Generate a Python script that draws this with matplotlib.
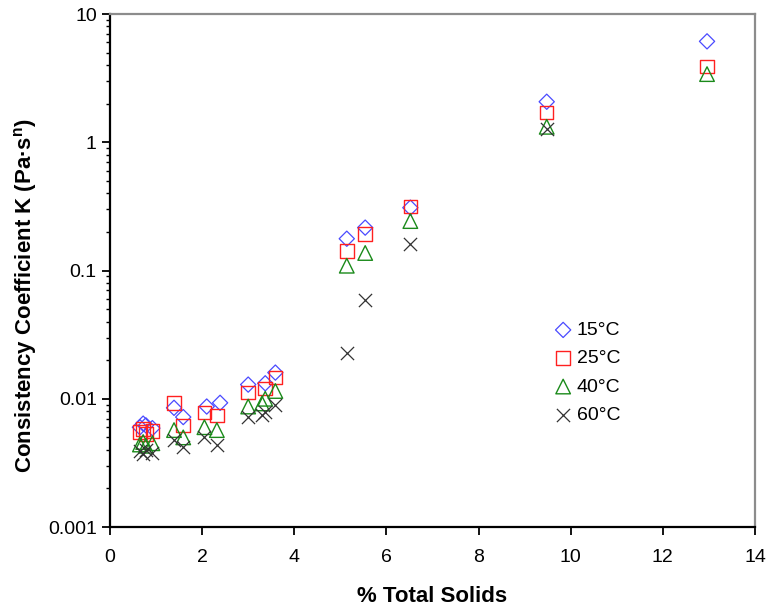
import matplotlib
matplotlib.use('Agg')
import matplotlib.pyplot as plt
from matplotlib.ticker import FixedLocator, LogLocator, NullFormatter, FuncFormatter

plt.rcParams['font.family'] = ['Liberation Sans', 'DejaVu Sans']
plt.rcParams['mathtext.fontset'] = 'custom'
plt.rcParams['mathtext.rm'] = 'Liberation Sans'
plt.rcParams['mathtext.bf'] = 'Liberation Sans:bold'

# % total solids for each temperature series
x_15 = [0.65, 0.72, 0.78, 0.92, 1.39, 1.59, 2.10, 2.39, 3.00, 3.37, 3.59, 5.14, 5.54, 6.52, 9.48, 12.96]
k_15 = [0.0060, 0.0064, 0.0062, 0.0059, 0.0085, 0.0072, 0.0087, 0.0093, 0.0129, 0.0132, 0.0160, 0.177, 0.216, 0.309, 2.07, 6.12]

x_25 = [0.65, 0.72, 0.78, 0.92, 1.39, 1.59, 2.05, 2.32, 3.00, 3.37, 3.59, 5.14, 5.54, 6.52, 9.48, 12.96]
k_25 = [0.0055, 0.0058, 0.0053, 0.0056, 0.0093, 0.0062, 0.0078, 0.0074, 0.0112, 0.0120, 0.0146, 0.142, 0.193, 0.315, 1.71, 3.90]

x_40 = [0.65, 0.72, 0.78, 0.92, 1.39, 1.59, 2.05, 2.32, 3.00, 3.30, 3.37, 3.59, 5.14, 5.54, 6.52, 9.48, 12.96]
k_40 = [0.0044, 0.0046, 0.0043, 0.0045, 0.0057, 0.0050, 0.0060, 0.0057, 0.0087, 0.0092, 0.0100, 0.0115, 0.109, 0.137, 0.243, 1.32, 3.40]

x_60 = [0.65, 0.72, 0.78, 0.92, 1.39, 1.59, 2.05, 2.32, 3.00, 3.30, 3.37, 3.59, 5.14, 5.54, 6.52, 9.48]
k_60 = [0.0039, 0.0037, 0.0040, 0.0038, 0.0048, 0.0042, 0.0050, 0.0044, 0.0072, 0.0075, 0.0079, 0.0090, 0.0227, 0.0593, 0.160, 1.27]

labels = ['15°C', '25°C', '40°C', '60°C']

fig = plt.figure(figsize=(7.68, 6.09), dpi=100)
ax = fig.add_axes([0.1432, 0.1346, 0.8398, 0.8424])

ax.scatter(x_15, k_15, marker='D', s=60, facecolors='none', edgecolors='#4a4aff', linewidths=0.9, label=labels[0], zorder=3)
ax.scatter(x_25, k_25, marker='s', s=95, facecolors='none', edgecolors='#ff2020', linewidths=1.0, label=labels[1], zorder=3)
ax.scatter(x_40, k_40, marker='^', s=110, facecolors='none', edgecolors='#1a8a1a', linewidths=1.0, label=labels[2], zorder=3)
ax.scatter(x_60, k_60, marker='x', s=90, color='#333333', linewidths=0.9, label=labels[3], zorder=3)

ax.set_yscale('log')
ax.set_xlim(0, 14)
ax.set_ylim(0.001, 10)
ax.xaxis.set_major_locator(FixedLocator([0, 2, 4, 6, 8, 10, 12, 14]))
ax.yaxis.set_major_locator(FixedLocator([0.001, 0.01, 0.1, 1, 10]))
ax.yaxis.set_major_formatter(FuncFormatter(lambda v, p: '%g' % v))
ax.yaxis.set_minor_locator(LogLocator(base=10, subs=range(2, 10)))
ax.yaxis.set_minor_formatter(NullFormatter())

ax.tick_params(axis='both', which='major', direction='out', length=6, width=1.3, labelsize=14, colors='black')
ax.tick_params(axis='y', which='minor', direction='out', length=3, width=1.0)
ax.tick_params(axis='x', which='major', pad=10)

for side in ['left', 'bottom']:
    ax.spines[side].set_linewidth(1.6)
    ax.spines[side].set_color('black')
for side in ['top', 'right']:
    ax.spines[side].set_linewidth(1.6)
    ax.spines[side].set_color('#8c8c8c')

ax.set_xlabel('% Total Solids', fontsize=16, fontweight='bold', labelpad=14)
ax.set_ylabel(r'Consistency Coefficient K (Pa·s$^{\mathbf{n}}$)', fontsize=16, fontweight='bold')
ax.yaxis.set_label_coords(-0.11, 0.452)

ax.legend(loc='upper left', bbox_to_anchor=(0.713, 0.485), bbox_transform=fig.transFigure,
          frameon=False, fontsize=14, handlelength=0.8, handletextpad=0.3,
          labelspacing=0.55, borderaxespad=0, scatterpoints=1)

plt.savefig('out.png', dpi=100, facecolor='white')
